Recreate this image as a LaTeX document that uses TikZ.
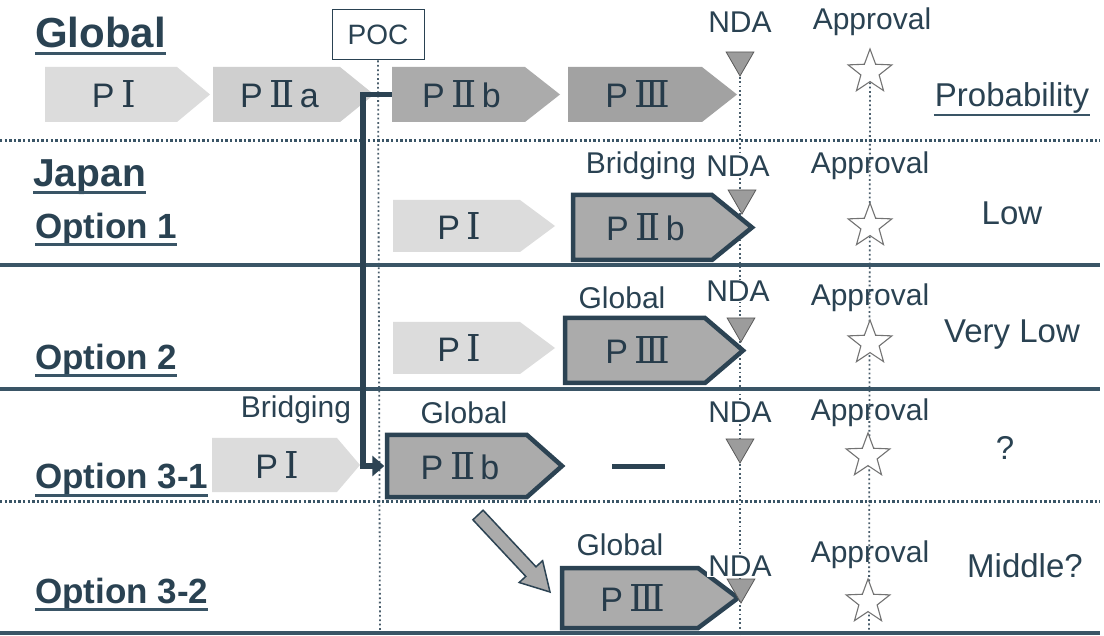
\documentclass[tikz,border=0pt]{standalone}
\usepackage{fontspec}
\setmainfont{Liberation Sans}
\newfontfamily\rom{DejaVu Serif}
\usetikzlibrary{shapes.geometric,arrows.meta}
\definecolor{ink}{HTML}{2A4252}
\definecolor{rulec}{HTML}{3A5566}
\definecolor{framec}{HTML}{2C4353}
\definecolor{lightA}{HTML}{DCDCDC}
\definecolor{lightB}{HTML}{CFCFCF}
\definecolor{darkA}{HTML}{ABABAB}
\definecolor{darkB}{HTML}{A2A2A2}
\definecolor{tric}{HTML}{9C9C9C}
\newcommand\fs[1]{\fontsize{#1}{#1}\selectfont}
\newcommand\rn[1]{\hspace{0.2em}{\rom\fontsize{37}{37}\selectfont #1}}
\pgfdeclarelayer{background}
\pgfsetlayers{background,main}
\newcommand\phasebox[8]{%
  \path[#1] (#3,#6) -- (#4,#6) -- (#5,{(#6+#7)/2}) -- (#4,#7) -- (#3,#7) -- cycle;
  \node[ptext, minimum width={(#4-#3)*1pt}, minimum height={(#7-#6)*1pt}] (#2) at ({(#3+#4)/2+3},{(#6+#7)/2}) {#8};
}
\tikzset{
  ptext/.style={inner sep=0pt, text=ink!90!black, font=\fs{34}},
  lightfill/.style={fill=lightA},
  lightfillb/.style={fill=lightB},
  darkfill/.style={fill=darkA},
  darkfillb/.style={fill=darkB},
  framed/.style={fill=darkA, draw=framec, line width=4.5pt, line join=miter},
  lbl/.style={text=ink, font=\fs{30}, inner sep=1pt},
  ndalbl/.style={lbl, fill=white},
  rlbl/.style={text=ink, font=\fs{33}, inner sep=1pt},
  leftlbl/.style={text=ink, font=\bfseries\fs{35}, anchor=base west, inner sep=0pt},
  bigleft/.style={leftlbl, font=\bfseries\fs{42}},
  ul/.style={draw=rulec, line width=3pt},
  hrule/.style={draw=rulec, line width=3.2pt},
  hdot/.style={draw=rulec, line width=3pt, dash pattern=on 2.4pt off 2.2pt},
  vdot/.style={draw=ink!85, line width=1.8pt, dash pattern=on 1.8pt off 2.6pt},
  ndatri/.style={regular polygon, regular polygon sides=3, shape border rotate=180, minimum size=32pt, inner sep=0pt, fill=tric, draw=black!65, line width=0.8pt},
  appstar/.style={star, star points=5, star point ratio=2.4, minimum size=46pt, inner sep=0pt, fill=white, draw=black!55, line width=1.1pt},
  conn/.style={draw=framec, line width=5.5pt, line join=miter, -{Triangle[length=12pt,width=20pt]}, shorten >=2.5pt},
  shiftarrow/.style={fill=darkA, draw=framec, line width=1.5pt, line join=miter},
  dashline/.style={draw=framec, line width=5pt}
}
\begin{document}
\begin{tikzpicture}[x=1pt,y=-1pt]
\useasboundingbox (0,0) rectangle (1104,636);

% ---- left labels
\node[bigleft] (lG) at (35,48) {Global};
\node[leftlbl, font=\bfseries\fs{39}] (lJ) at (33,187) {Japan};
\node[leftlbl] (l1) at (35,239) {Option 1};
\node[leftlbl] (l2) at (35,370) {Option 2};
\node[leftlbl] (l31) at (35,489) {Option 3-1};
\node[leftlbl] (l32) at (35,603) {Option 3-2};
\foreach \n in {lG,lJ,l1,l2,l31,l32}
  \draw[ul] ([yshift=-6pt]\n.base west) -- ([yshift=-6pt]\n.base east);

% ---- POC
\node[draw=ink, line width=1pt, minimum width=92pt, minimum height=50pt, text=ink, font=\fs{28}, inner sep=0pt] (poc) at (378,35) {POC};

% ---- Global row
\phasebox{lightfill}{gP1}{45}{177}{210}{67}{122}{P\rn{Ⅰ}}
\phasebox{lightfillb}{gP2a}{213}{340}{374}{67}{122}{P\rn{Ⅱ}\hspace{0.15em}a}
\phasebox{darkfill}{gP2b}{392}{525}{560}{67}{122}{P\rn{Ⅱ}\hspace{0.15em}b}
\phasebox{darkfillb}{gP3}{568}{702}{737}{67}{122}{P\rn{Ⅲ}}

% ---- Option 1
\phasebox{lightfill}{o1a}{393}{520}{555}{200}{252}{P\rn{Ⅰ}}
\phasebox{framed}{o1b}{573}{712}{752}{195}{260}{P\rn{Ⅱ}\hspace{0.15em}b}
% ---- Option 2
\phasebox{lightfill}{o2a}{393}{520}{555}{322}{374}{P\rn{Ⅰ}}
\phasebox{framed}{o2b}{565}{705}{743}{318}{383}{P\rn{Ⅲ}}
% ---- Option 3-1
\phasebox{lightfill}{o31a}{212}{337}{360}{438}{492}{P\rn{Ⅰ}}
\phasebox{framed}{o31b}{387}{527}{562}{435}{497}{P\rn{Ⅱ}\hspace{0.15em}b}
% ---- Option 3-2
\phasebox{framed}{o32b}{562}{698}{738}{568}{628}{P\rn{Ⅲ}}

% ---- NDA triangles and approval stars
\node[ndatri] (t0) at (740,60) {};
\node[ndatri] (t1) at (742,198) {};
\node[ndatri] (t2) at (741,326) {};
\node[ndatri] (t3) at (740,447) {};
\node[ndatri] (t4) at (741,587) {};
\node[appstar] (s0) at (870,72) {};
\node[appstar] (s1) at (870,226) {};
\node[appstar] (s2) at (870,343) {};
\node[appstar] (s3) at (868,456) {};
\node[appstar] (s4) at (868,602) {};

% ---- labels
\node[lbl] (ndaG) at (740,22) {NDA};
\node[lbl] (apG) at (872,22) {Approval};
\node[rlbl] (prob) at (1012,98) {Probability};
\draw[draw=rulec, line width=2pt] ([yshift=-8pt]prob.base west) -- ([yshift=-8pt]prob.base east);

\node[lbl] (brg1) at (641,166) {Bridging};
\node[ndalbl] (nda1) at (738,166) {NDA};
\node[lbl] (ap1) at (870,166) {Approval};
\node[rlbl] (low) at (1012,213) {Low};

\node[lbl] (glb2) at (622,298) {Global};
\node[ndalbl] (nda2) at (738,291) {NDA};
\node[lbl] (ap2) at (870,298) {Approval};
\node[rlbl] (vlow) at (1012,335) {Very Low};

\node[lbl] (brg31) at (296,410) {Bridging};
\node[lbl] (glb31) at (464,413) {Global};
\node[ndalbl] (nda31) at (740,412) {NDA};
\node[lbl] (ap31) at (870,413) {Approval};
\node[rlbl] (q) at (1005,448) {?};

\node[lbl] (glb32) at (620,545) {Global};
\node[ndalbl] (nda32) at (740,566) {NDA};
\node[lbl] (ap32) at (870,555) {Approval};
\node[rlbl] (mid) at (1025,566) {Middle?};

% ---- dash and shift arrow
\draw[dashline] (612,466) -- (665,466);
\path[shiftarrow] (472.9,519.8) -- (525.8,576.4) -- (519.2,582.5) -- (550,592) -- (542.6,560.7) -- (536.0,566.8) -- (483.1,510.2) -- cycle;

% ---- POC connector
\coordinate (pocBend) at (363,94.5);
\draw[conn] ([xshift=-3pt]gP2b.west) -- (pocBend) |- ([xshift=-3pt]o31b.west);

% ---- background rules
\begin{pgfonlayer}{background}
  \fill[white] (0,0) rectangle (1104,636);
  \coordinate (pocEnd) at (380,636);
  \coordinate (ndaEnd) at (740,636);
  \coordinate (apEnd) at (869,636);
  \draw[vdot] (poc.south) -- (pocEnd);
  \draw[vdot] (t0) -- (ndaEnd);
  \draw[vdot] (s0) -- (apEnd);
  \draw[hdot] (0,141) -- (1100,141);
  \draw[hrule] (0,265) -- (1100,265);
  \draw[hrule] (0,389) -- (1100,389);
  \draw[hdot] (0,501) -- (1100,501);
  \draw[hrule] (0,633) -- (1100,633);
\end{pgfonlayer}
\end{tikzpicture}
\end{document}
